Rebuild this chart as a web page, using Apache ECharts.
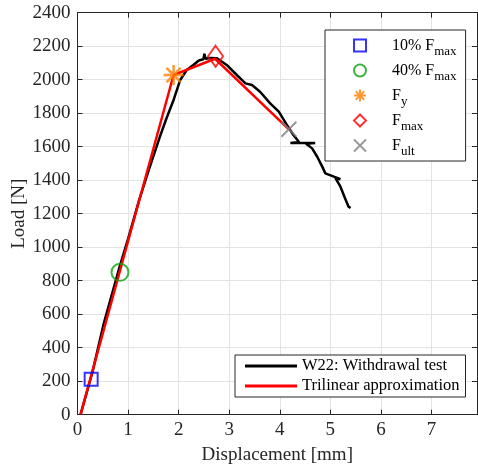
<!DOCTYPE html>
<html><head><meta charset="utf-8">
<script src="https://cdn.jsdelivr.net/npm/echarts@6/dist/echarts.min.js"></script>
<style>html,body{margin:0;padding:0;background:#fff}#c{width:478px;height:468px}</style>
</head><body><div id="c"></div>
<script>
var testX = [0.06,0.30,0.52,0.82,1.00,1.22,1.42,1.63,1.76,1.90,2.03,2.16,2.29,2.40,2.49,2.51,2.53,2.62,2.76,2.95,3.15,3.32,3.45,3.61,3.81,3.98,4.14,4.27,4.38,4.21,4.70,4.52,4.64,4.74,4.84,4.90,5.07,5.20,5.10,5.20,5.28,5.36,5.40];
var testY = [0,260,546,870,1050,1282,1470,1660,1770,1879,1998,2058,2088,2115,2122,2155,2125,2130,2128,2088,2028,1978,1968,1928,1859,1809,1730,1670,1628,1622,1622,1618,1590,1540,1481,1441,1421,1406,1412,1361,1300,1242,1234];
var triX = [0.06,1.90,2.72,4.18];
var triY = [0,2028,2125,1704];
var p10 = [0.27,211];
var p40 = [0.84,850];
var pFy = [1.90,2028];
var pFmax = [2.73,2140];
var pFult = [4.18,1704];
var xTicksMax = 7.9, yMax = 2400;

function pairs(xs, ys){ return xs.map(function(x,i){ return [x, ys[i]]; }); }

var font = 'Liberation Serif';
var starPath = 'path://M0,-10L0,10M-10,0L10,0M-7.07,-7.07L7.07,7.07M-7.07,7.07L7.07,-7.07';
var xPath = 'path://M-10,-10L10,10M-10,10L10,-10';

var legendNames = {
  'p10': '{s|}{a|10% F}{b|max}',
  'p40': '{s|}{a|40% F}{b|max}',
  'Fy': '{s|}{a|F}{b|y}',
  'Fmax': '{s|}{a|F}{b|max}',
  'Fult': '{s|}{a|F}{b|ult}'
};

var chart = echarts.init(document.getElementById('c'));
var axisTextColor = '#262626';
chart.setOption({
  animation: false,
  backgroundColor: '#fff',
  grid: {left: 77.5, right: 1, top: 12.7, bottom: 53.3, containLabel: false, outerBoundsMode: 'none'},
  xAxis: [{
    type: 'value', min: 0, max: xTicksMax, interval: 1,
    name: 'Displacement [mm]', nameLocation: 'middle', nameGap: 31, nameMoveOverlap: false,
    nameTextStyle: {fontFamily: font, fontSize: 19, color: axisTextColor},
    axisLine: {show: true, onZero: false, lineStyle: {color: '#262626', width: 1}},
    axisTick: {show: true, inside: true, length: 5, lineStyle: {color: '#262626'}},
    axisLabel: {fontFamily: font, fontSize: 19, color: axisTextColor, margin: 6, showMaxLabel: false,
      formatter: function(v){ return String(v); }},
    splitLine: {show: true, lineStyle: {color: '#e3e3e3', width: 1}}
  },{
    type: 'value', position: 'top', min: 0, max: xTicksMax, interval: 1,
    axisLine: {show: true, onZero: false, lineStyle: {color: '#262626', width: 1}},
    axisTick: {show: true, inside: true, length: 5, lineStyle: {color: '#262626'}},
    axisLabel: {show: false}, splitLine: {show: false}
  }],
  yAxis: [{
    type: 'value', min: 0, max: yMax, interval: 200,
    name: 'Load [N]', nameLocation: 'middle', nameGap: 49, nameMoveOverlap: false,
    nameTextStyle: {fontFamily: font, fontSize: 19, color: axisTextColor},
    axisLine: {show: true, onZero: false, lineStyle: {color: '#262626', width: 1}},
    axisTick: {show: true, inside: true, length: 5, lineStyle: {color: '#262626'}},
    axisLabel: {fontFamily: font, fontSize: 19, color: axisTextColor, margin: 7,
      formatter: function(v){ return String(v); }},
    splitLine: {show: true, lineStyle: {color: '#e3e3e3', width: 1}}
  },{
    type: 'value', position: 'right', min: 0, max: yMax, interval: 200,
    axisLine: {show: true, onZero: false, lineStyle: {color: '#262626', width: 1}},
    axisTick: {show: true, inside: true, length: 5, lineStyle: {color: '#262626'}},
    axisLabel: {show: false}, splitLine: {show: false}
  }],
  legend: [{
    data: ['p10','p40','Fy','Fmax','Fult'],
    orient: 'vertical', left: 325, top: 30,
    padding: [3, 9, 3, 28], itemGap: 0, itemWidth: 12, itemHeight: 12,
    backgroundColor: '#fff', borderColor: '#262626', borderWidth: 1,
    formatter: function(n){ return legendNames[n]; },
    textStyle: {
      fontFamily: font, color: '#000',
      rich: {
        s: {width: 21},
        a: {fontFamily: font, fontSize: 16, color: '#000', lineHeight: 25},
        b: {fontFamily: font, fontSize: 13, color: '#000', padding: [12, 0, 0, 0], lineHeight: 25}
      }
    }
  },{
    data: [
      {name: 'W22: Withdrawal test', icon: 'rect', itemStyle: {color: '#000'}},
      {name: 'Trilinear approximation', icon: 'rect', itemStyle: {color: '#ff0000'}}
    ],
    orient: 'vertical', left: 235, top: 355,
    padding: [1, 6, 1, 10], itemGap: 0, itemWidth: 52, itemHeight: 3,
    backgroundColor: '#fff', borderColor: '#262626', borderWidth: 1,
    textStyle: {fontFamily: font, fontSize: 16.5, color: '#000', lineHeight: 20}
  }],
  series: [{
    name: 'W22: Withdrawal test', type: 'line', data: pairs(testX, testY),
    showSymbol: false, symbol: 'none', lineStyle: {color: '#000', width: 2.5}, itemStyle: {color: '#000'}, z: 2
  },{
    name: 'Trilinear approximation', type: 'line', data: pairs(triX, triY),
    showSymbol: false, symbol: 'none', lineStyle: {color: '#ff0000', width: 2.5}, itemStyle: {color: '#ff0000'}, z: 3
  },{
    name: 'p10', type: 'scatter', data: [p10], symbol: 'rect', symbolSize: 13,
    itemStyle: {color: 'rgba(0,0,0,0)', borderColor: '#0000ff', borderWidth: 2}, z: 5
  },{
    name: 'p40', type: 'scatter', data: [p40], symbol: 'circle', symbolSize: 17,
    itemStyle: {color: 'rgba(0,0,0,0)', borderColor: '#12a012', borderWidth: 2}, z: 5
  },{
    name: 'Fy', type: 'scatter', data: [pFy], symbol: starPath, symbolSize: 20,
    itemStyle: {color: 'rgba(0,0,0,0)', borderColor: '#ff8000', borderWidth: 2.5}, z: 5
  },{
    name: 'Fmax', type: 'scatter', data: [pFmax], symbol: 'diamond', symbolSize: [15, 21],
    itemStyle: {color: 'rgba(0,0,0,0)', borderColor: '#ff0000', borderWidth: 2}, z: 5
  },{
    name: 'Fult', type: 'scatter', data: [pFult], symbol: xPath, symbolSize: 15,
    itemStyle: {color: 'rgba(0,0,0,0)', borderColor: '#808080', borderWidth: 2}, z: 5
  }]
});
</script></body></html>
